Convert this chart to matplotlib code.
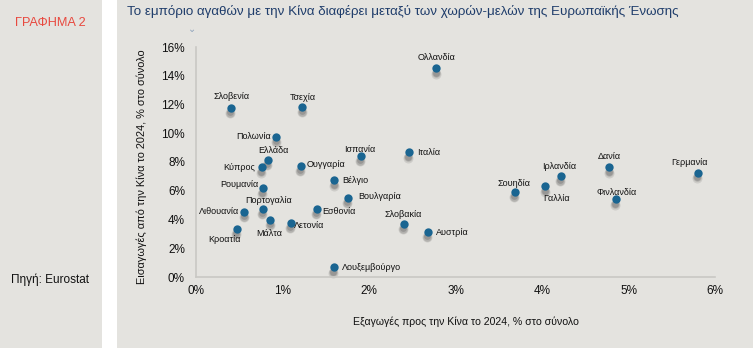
import matplotlib
matplotlib.use("Agg")
import matplotlib.pyplot as plt
from matplotlib.patches import Rectangle
from matplotlib.ticker import FuncFormatter
import matplotlib.transforms as mtransforms

plt.rcParams['font.family'] = ['Liberation Sans', 'DejaVu Sans']

# Member states: share of exports to / imports from China in 2024 (% of total)
countries = ["Ολλανδία", "Σλοβενία", "Τσεχία", "Πολωνία", "Ελλάδα", "Κύπρος",
             "Ουγγαρία", "Ισπανία", "Ιταλία", "Βέλγιο", "Ρουμανία", "Βουλγαρία",
             "Πορτογαλία", "Λιθουανία", "Εσθονία", "Μάλτα", "Λετονία", "Κροατία",
             "Λουξεμβούργο", "Σλοβακία", "Αυστρία", "Σουηδία", "Γαλλία",
             "Ιρλανδία", "Δανία", "Φινλανδία", "Γερμανία"]
exports_pct = [2.78, 0.40, 1.23, 0.93, 0.83, 0.76,
               1.21, 1.91, 2.46, 1.60, 0.77, 1.76,
               0.77, 0.56, 1.40, 0.86, 1.10, 0.47,
               1.59, 2.40, 2.68, 3.69, 4.04,
               4.22, 4.78, 4.85, 5.80]
imports_pct = [14.52, 11.78, 11.83, 9.76, 8.14, 7.63,
               7.74, 8.42, 8.67, 6.73, 6.17, 5.52,
               4.75, 4.54, 4.73, 3.97, 3.78, 3.36,
               0.67, 3.69, 3.15, 5.91, 6.31,
               7.03, 7.63, 5.41, 7.26]

x_ticks = [0, 1, 2, 3, 4, 5, 6]
y_ticks = [0, 2, 4, 6, 8, 10, 12, 14, 16]

# label placement per country: (dx, dy) in points, horizontal alignment
label_pos = {
    "Ολλανδία": (0, 8, "center"), "Σλοβενία": (1, 8, "center"),
    "Τσεχία": (0, 7, "center"), "Πολωνία": (-4, 0, "right"),
    "Ελλάδα": (4, 7, "center"), "Κύπρος": (-5, 0, "right"),
    "Ουγγαρία": (4, 1, "left"), "Ισπανία": (-1, 5, "center"),
    "Ιταλία": (6, 0, "left"), "Βέλγιο": (6, 0, "left"),
    "Ρουμανία": (-3, 3, "right"), "Βουλγαρία": (7, 1, "left"),
    "Πορτογαλία": (4, 6, "center"), "Λιθουανία": (-4, 0, "right"),
    "Εσθονία": (4, -2, "left"), "Μάλτα": (-1, -10, "center"),
    "Λετονία": (2, -2, "left"), "Κροατία": (-9, -8, "center"),
    "Λουξεμβούργο": (6, 0, "left"), "Σλοβακία": (0, 7, "center"),
    "Αυστρία": (6, -0.3, "left"), "Σουηδία": (-1, 6, "center"),
    "Γαλλία": (8, -9, "center"), "Ιρλανδία": (-1, 7, "center"),
    "Δανία": (0, 8, "center"), "Φινλανδία": (1, 5, "center"),
    "Γερμανία": (-6, 7, "center"),
}

bg = "#E4E3DF"
fig = plt.figure(figsize=(7.53, 3.48), dpi=100)
fig.patch.set_facecolor("white")
fig.patches.append(Rectangle((0, 0), 102 / 753, 1, transform=fig.transFigure,
                             facecolor=bg, edgecolor="none", zorder=-10))
fig.patches.append(Rectangle((117 / 753, 0), 1 - 117 / 753, 1, transform=fig.transFigure,
                             facecolor=bg, edgecolor="none", zorder=-10))

ax = fig.add_axes([196 / 753, 1 - 277 / 348, (715 - 196) / 753, (277 - 47) / 348])
ax.set_facecolor(bg)
ax.set_xlim(0, 6)
ax.set_ylim(0, 16)
for s in ["top", "right"]:
    ax.spines[s].set_visible(False)
for s in ["left", "bottom"]:
    ax.spines[s].set_color("#C9C8C4")
    ax.spines[s].set_linewidth(1.2)
ax.set_xticks(x_ticks)
ax.set_yticks(y_ticks)
fmt = FuncFormatter(lambda v, p: f"{v:.0f}%")
ax.xaxis.set_major_formatter(fmt)
ax.yaxis.set_major_formatter(fmt)
ax.tick_params(length=0, labelsize=8.5, colors="#111111")
ax.tick_params(axis="y", pad=8)
ax.tick_params(axis="x", pad=6)

# soft drop shadow below each marker
for dy, a, sz in [(-3.8, 0.16, 52), (-3.5, 0.22, 38), (-3.2, 0.28, 24)]:
    tr = mtransforms.offset_copy(ax.transData, fig=fig, x=-0.6, y=dy, units="points")
    ax.scatter(exports_pct, imports_pct, s=sz, color="#555555", alpha=a,
               linewidths=0, transform=tr, zorder=2, clip_on=False)
ax.scatter(exports_pct, imports_pct, s=36, color="#1A6591", linewidths=0,
           zorder=3, clip_on=False)

for name, xv, yv in zip(countries, exports_pct, imports_pct):
    dx, dy, ha = label_pos[name]
    ax.annotate(name, (xv, yv), xytext=(dx, dy), textcoords="offset points",
                ha=ha, va="center", fontsize=6.5, color="#111111", zorder=4)

ax.set_xlabel("Εξαγωγές προς την Κίνα το 2024, % στο σύνολο", fontsize=7.6,
              color="#111111")
ax.xaxis.set_label_coords(0.52, -0.172)
ax.set_ylabel("Εισαγωγές από την Κίνα το 2024, % στο σύνολο", fontsize=7.9,
              color="#111111")
ax.yaxis.set_label_coords(-0.094, 0.478)

fig.text(127 / 753, 1 - 11 / 348, "Το εμπόριο αγαθών με την Κίνα διαφέρει μεταξύ των χωρών-μελών της Ευρωπαϊκής Ένωσης",
         fontsize=9.6, color="#1F3D6B", ha="left", va="center")
fig.text(50 / 753, 1 - 23 / 348, "ΓΡΑΦΗΜΑ 2", fontsize=9.2, color="#E8493F",
         ha="center", va="center")
fig.text(50 / 753, 1 - 280 / 348, "Πηγή: Eurostat", fontsize=8.5, color="#111111",
         ha="center", va="center")
fig.text(192 / 753, 1 - 29 / 348, "⌄", fontsize=7, color="#8FA4BC",
         ha="center", va="center", family="DejaVu Sans")

fig.savefig("out.png", dpi=100, facecolor=fig.get_facecolor())
